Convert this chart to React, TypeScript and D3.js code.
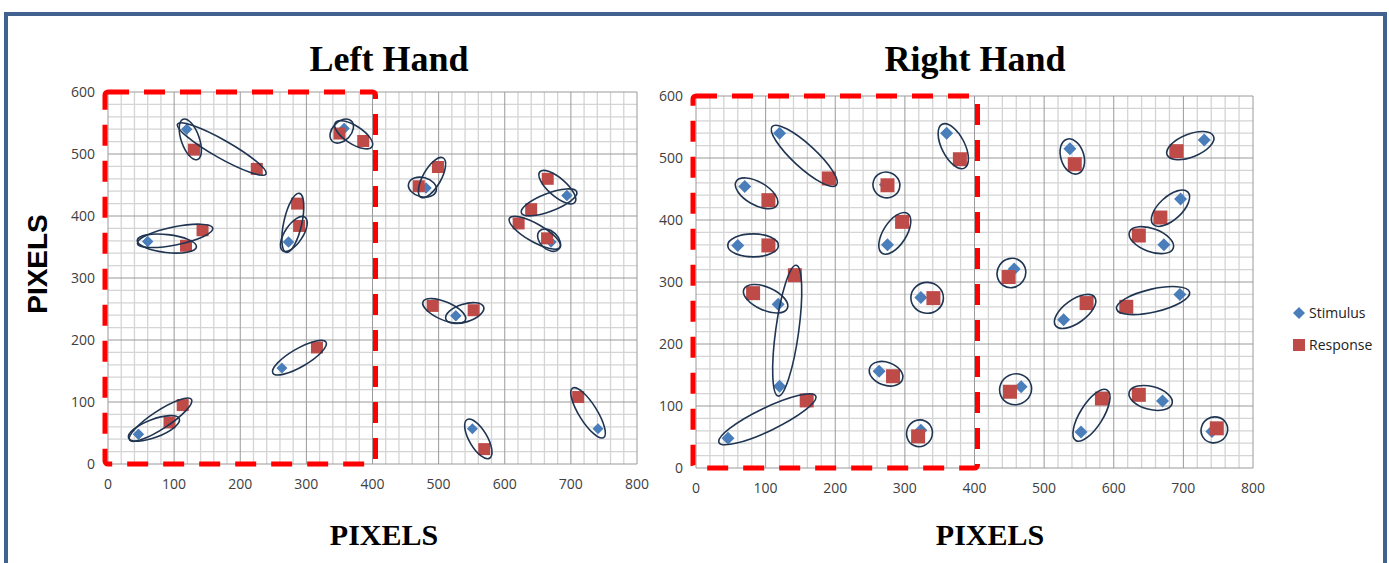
import React from "react";
import * as d3 from "d3";

// ---- axis ticks ----
const X_TICKS = [0, 100, 200, 300, 400, 500, 600, 700, 800];
const Y_TICKS = [0, 100, 200, 300, 400, 500, 600];

// ---- Left hand trials: stimulus i is paired with response i ----
const LEFT_STIMULUS: [number, number][] = [
  [119, 540], [119, 540], [357, 541], [357, 541], [60, 359], [60, 359],
  [273, 358], [273, 358], [46, 48], [46, 48], [263, 155], [481, 445],
  [481, 445], [694, 433], [694, 433], [670, 358], [670, 358], [526, 239],
  [526, 239], [551, 57], [741, 57],
];
const LEFT_RESPONSE: [number, number][] = [
  [130, 507], [225, 476], [350, 533], [386, 521], [118, 352], [143, 377],
  [286, 420], [289, 384], [93, 67], [113, 95], [316, 188], [470, 448],
  [499, 479], [665, 460], [640, 411], [621, 388], [664, 364], [491, 255],
  [553, 248], [569, 24], [711, 108],
];

// ---- Right hand trials ----
const RIGHT_STIMULUS: [number, number][] = [
  [120, 540], [70, 454], [60, 359], [272, 457], [275, 360], [360, 540],
  [537, 515], [730, 529], [696, 434], [672, 360], [118, 264], [120, 132],
  [46, 48], [263, 156], [323, 275], [323, 61], [457, 321], [528, 239],
  [695, 280], [467, 131], [553, 58], [670, 108], [741, 59],
];
const RIGHT_RESPONSE: [number, number][] = [
  [191, 467], [104, 432], [104, 359], [275, 456], [296, 397], [379, 498],
  [544, 490], [690, 511], [667, 404], [636, 375], [82, 282], [142, 311],
  [159, 109], [283, 148], [341, 274], [319, 51], [449, 308], [561, 266],
  [618, 260], [451, 123], [583, 112], [636, 118], [748, 64],
];

// quadrant outlined by the dashed box
const QUADRANT = { x0: 0, x1: 400, y0: 0, y1: 600 };

const SERIES = ["Stimulus", "Response"];

const STIM_COLOR = "#4a7ebb";
const RESP_COLOR = "#be4b48";
const RING_COLOR = "#1f3552";

type Style = {
  pad: number;
  minR: number;
  minor: number;
  roundness: number;
  diamond: number;
  square: number;
};

type PanelProps = {
  title: string;
  titleX: number;
  x0: number;
  x1: number;
  yTop: number;
  yBot: number;
  stim: [number, number][];
  resp: [number, number][];
  style: Style;
};

function diamondPath(cx: number, cy: number, h: number) {
  return `M${cx},${cy - h}L${cx + h},${cy}L${cx},${cy + h}L${cx - h},${cy}Z`;
}

function Panel({ title, titleX, x0, x1, yTop, yBot, stim, resp, style }: PanelProps) {
  const x = d3.scaleLinear().domain([0, 800]).range([x0, x1]);
  const y = d3.scaleLinear().domain([0, 600]).range([yBot, yTop]);
  const gx = d3.range(0, 801, 20);
  const gy = d3.range(0, 601, 20);

  const rings = stim.map((s, i) => {
    const r = resp[i];
    const px = x(s[0]), py = y(s[1]);
    const qx = x(r[0]), qy = y(r[1]);
    const d = Math.hypot(qx - px, qy - py);
    const ang = (Math.atan2(qy - py, qx - px) * 180) / Math.PI;
    const rx = Math.max(d / 2 + style.pad, style.minR);
    const ry = Math.min(rx * style.roundness, Math.max(style.minor, rx < 17 ? rx * 0.95 : style.minor));
    return { cx: (px + qx) / 2, cy: (py + qy) / 2, rx, ry, ang };
  });

  return (
    <g>
      <text
        x={titleX}
        y={71}
        textAnchor="middle"
        fontFamily="'Liberation Serif', 'DejaVu Serif', serif"
        fontWeight="bold"
        fontSize={36}
        fill="#000"
      >
        {title}
      </text>
      {/* minor grid */}
      {gx.filter((v) => v % 100 !== 0).map((v) => (
        <line key={"mx" + v} x1={x(v)} x2={x(v)} y1={yTop} y2={yBot} stroke="#d4d4d4" strokeWidth={1.3} />
      ))}
      {gy.filter((v) => v % 100 !== 0).map((v) => (
        <line key={"my" + v} x1={x0} x2={x1} y1={y(v)} y2={y(v)} stroke="#d4d4d4" strokeWidth={1.3} />
      ))}
      {/* major grid */}
      {X_TICKS.map((v) => (
        <line key={"Mx" + v} x1={x(v)} x2={x(v)} y1={yTop} y2={yBot} stroke="#9a9a9a" strokeWidth={1} />
      ))}
      {Y_TICKS.map((v) => (
        <line key={"My" + v} x1={x0} x2={x1} y1={y(v)} y2={y(v)} stroke="#9a9a9a" strokeWidth={1} />
      ))}
      {/* tick labels */}
      {X_TICKS.map((v) => (
        <text key={"tx" + v} x={x(v)} y={yBot + 25} textAnchor="middle" fontFamily="'Open Sans', sans-serif" fontSize={14} fill="#404040">
          {v}
        </text>
      ))}
      {Y_TICKS.map((v) => (
        <text key={"ty" + v} x={x0 - 13} y={y(v) + 5} textAnchor="end" fontFamily="'Open Sans', sans-serif" fontSize={14} fill="#404040">
          {v}
        </text>
      ))}
      {/* dashed quadrant outline */}
      <rect
        x={x(QUADRANT.x0) - 3}
        y={y(QUADRANT.y1)}
        width={x(QUADRANT.x1) - x(QUADRANT.x0) + 6}
        height={y(QUADRANT.y0) - y(QUADRANT.y1)}
        rx={3}
        fill="none"
        stroke="#ff0000"
        strokeWidth={5}
        strokeDasharray="21 15"
      />
      {/* stimulus markers */}
      {stim.map((s, i) => (
        <path key={"s" + i} d={diamondPath(x(s[0]), y(s[1]), style.diamond)} fill={STIM_COLOR} />
      ))}
      {/* response markers */}
      {resp.map((r, i) => (
        <rect
          key={"r" + i}
          x={x(r[0]) - style.square / 2}
          y={y(r[1]) - style.square / 2}
          width={style.square}
          height={style.square}
          fill={RESP_COLOR}
        />
      ))}
      {/* rings joining each stimulus to its response */}
      {rings.map((e, i) => (
        <ellipse
          key={"e" + i}
          cx={0}
          cy={0}
          rx={e.rx}
          ry={e.ry}
          transform={`translate(${e.cx},${e.cy}) rotate(${e.ang})`}
          fill="none"
          stroke={RING_COLOR}
          strokeWidth={1.6}
        />
      ))}
    </g>
  );
}

export default function App() {
  const leftStyle: Style = { pad: 10.5, minR: 10.5, minor: 9, roundness: 0.68, diamond: 5.5, square: 12 };
  const rightStyle: Style = { pad: 10, minR: 13.5, minor: 11.5, roundness: 1, diamond: 6.5, square: 14 };

  return (
    <svg
      width={1389}
      height={563}
      style={{ position: "absolute", left: 0, top: 0, background: "#fff" }}
    >
      <rect x={0} y={0} width={1389} height={563} fill="#fff" />
      {/* outer frame */}
      <rect x={6} y={14} width={1379} height={600} fill="none" stroke="#41618f" strokeWidth={4} />

      <Panel
        title="Left Hand"
        titleX={389}
        x0={108}
        x1={637}
        yTop={92}
        yBot={464}
        stim={LEFT_STIMULUS}
        resp={LEFT_RESPONSE}
        style={leftStyle}
      />
      <Panel
        title="Right Hand"
        titleX={975}
        x0={696}
        x1={1253}
        yTop={96}
        yBot={468}
        stim={RIGHT_STIMULUS}
        resp={RIGHT_RESPONSE}
        style={rightStyle}
      />

      {/* axis titles */}
      <text
        transform="translate(47,264) rotate(-90)"
        textAnchor="middle"
        fontFamily="'Liberation Sans', Arial, sans-serif"
        fontWeight="bold"
        fontSize={28}
        fill="#000"
      >
        PIXELS
      </text>
      <text x={384} y={545} textAnchor="middle" fontFamily="'Liberation Serif', serif" fontWeight="bold" fontSize={30} fill="#000">
        PIXELS
      </text>
      <text x={990} y={545} textAnchor="middle" fontFamily="'Liberation Serif', serif" fontWeight="bold" fontSize={30} fill="#000">
        PIXELS
      </text>

      {/* legend */}
      <g fontFamily="'Open Sans', sans-serif" fontSize={14} fill="#222">
        <path d={diamondPath(1299, 313, 6)} fill={STIM_COLOR} />
        <text x={1309} y={318}>{SERIES[0]}</text>
        <rect x={1293} y={339} width={12} height={12} fill={RESP_COLOR} />
        <text x={1309} y={350}>{SERIES[1]}</text>
      </g>
    </svg>
  );
}
